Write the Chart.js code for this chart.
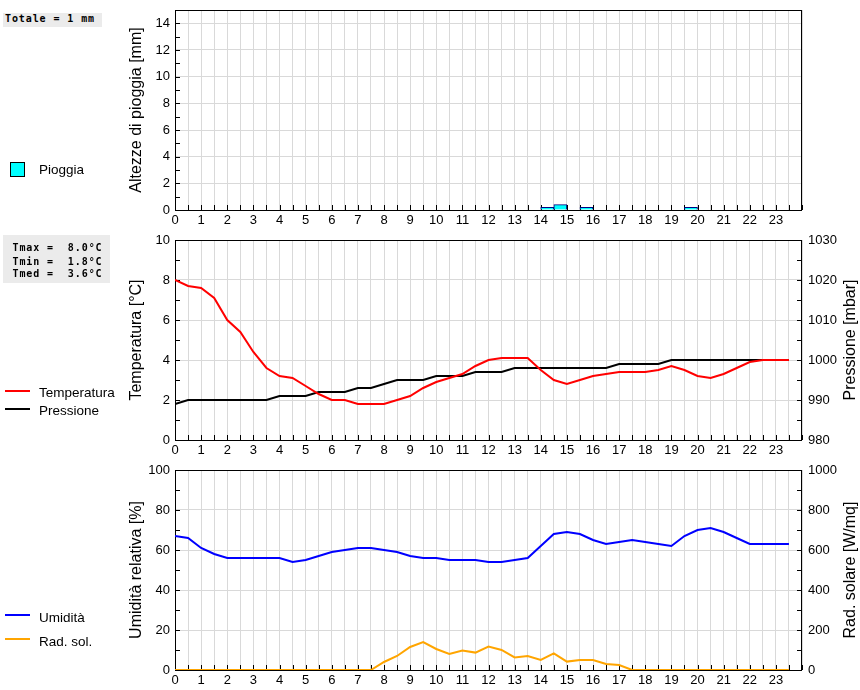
<!DOCTYPE html>
<html>
<head>
<meta charset="utf-8">
<script src="https://cdn.jsdelivr.net/npm/chart.js@4/dist/chart.umd.min.js"></script>
<style>
  html, body { margin: 0; padding: 0; background: #fff; }
  #wrap { position: relative; width: 860px; height: 690px; overflow: hidden; font-family: 'Liberation Sans', Arial, sans-serif; }
  canvas { position: absolute; left: 0; }
  .ttl { position: absolute; white-space: nowrap; font-size: 16px; line-height: 18px; transform: translate(-50%, -50%) rotate(-90deg); }
  .box { position: absolute; background: #ebebeb; }
  .mono { position: absolute; white-space: pre; font: bold 10px 'DejaVu Sans Mono', monospace; line-height: 10px; letter-spacing: 0.9px; }
  .leg { position: absolute; white-space: nowrap; font-size: 13.5px; line-height: 13.5px; }
  .ln { position: absolute; height: 2px; width: 25px; left: 5px; }
</style>
</head>
<body>
<div id="wrap">
  <canvas id="c1" width="860" height="230" style="top:0px"></canvas>
  <canvas id="c2" width="860" height="230" style="top:230px"></canvas>
  <canvas id="c3" width="860" height="230" style="top:460px"></canvas>

  <div class="box" style="left:3px;top:12.5px;width:99px;height:14.5px"></div>
  <div class="mono" style="left:5px;top:13.5px">Totale = 1 mm</div>

  <div class="box" style="left:3px;top:235px;width:107px;height:48px"></div>
  <div class="mono" style="left:12.5px;top:242.5px">Tmax =  8.0°C</div>
  <div class="mono" style="left:12.5px;top:256.5px">Tmin =  1.8°C</div>
  <div class="mono" style="left:12.5px;top:269px">Tmed =  3.6°C</div>

  <div style="position:absolute;left:10px;top:162px;width:13px;height:13px;background:#00ffff;border:1px solid #000"></div>
  <div class="leg" style="left:39px;top:163.3px">Pioggia</div>

  <div class="ln" style="top:390px;background:#ff0000"></div>
  <div class="leg" style="left:39px;top:385.6px">Temperatura</div>
  <div class="ln" style="top:408px;background:#000000"></div>
  <div class="leg" style="left:39px;top:403.6px">Pressione</div>

  <div class="ln" style="top:614px;background:#0000ff"></div>
  <div class="leg" style="left:39px;top:611.3px">Umidità</div>
  <div class="ln" style="top:638px;background:#ffa500"></div>
  <div class="leg" style="left:39px;top:634.6px">Rad. sol.</div>

  <div class="ttl" style="left:136px;top:110px">Altezze di pioggia [mm]</div>
  <div class="ttl" style="left:136px;top:340px">Temperatura [°C]</div>
  <div class="ttl" style="left:850px;top:340px">Pressione [mbar]</div>
  <div class="ttl" style="left:136px;top:570px">Umidità relativa [%]</div>
  <div class="ttl" style="left:850px;top:570px">Rad. solare [W/mq]</div>
</div>
<script>
// ---- data (half-hour samples) ----
const hours = [0,0.5,1,1.5,2,2.5,3,3.5,4,4.5,5,5.5,6,6.5,7,7.5,8,8.5,9,9.5,10,10.5,11,11.5,
               12,12.5,13,13.5,14,14.5,15,15.5,16,16.5,17,17.5,18,18.5,19,19.5,20,20.5,21,21.5,22,22.5,23,23.5];
const hourLabels = ['0','1','2','3','4','5','6','7','8','9','10','11','12','13','14','15','16','17','18','19','20','21','22','23'];
const rain = [0,0,0,0,0,0,0,0,0,0,0,0,0,0,0,0,0,0,0,0,0,0,0,0,
              0,0,0,0,0.2,0.4,0,0.2,0,0,0,0,0,0,0,0.2,0,0,0,0,0,0,0,0];
const temperature = [8.0,7.7,7.6,7.1,6.0,5.4,4.4,3.6,3.2,3.1,2.7,2.3,2.0,2.0,1.8,1.8,1.8,2.0,2.2,2.6,2.9,3.1,3.3,3.7,
                     4.0,4.1,4.1,4.1,3.5,3.0,2.8,3.0,3.2,3.3,3.4,3.4,3.4,3.5,3.7,3.5,3.2,3.1,3.3,3.6,3.9,4.0,4.0,4.0];
const pressure = [989,990,990,990,990,990,990,990,991,991,991,992,992,992,993,993,994,995,995,995,996,996,996,997,
                  997,997,998,998,998,998,998,998,998,998,999,999,999,999,1000,1000,1000,1000,1000,1000,1000,1000,1000,1000];
const humidity = [67,66,61,58,56,56,56,56,56,54,55,57,59,60,61,61,60,59,57,56,56,55,55,55,
                  54,54,55,56,62,68,69,68,65,63,64,65,64,63,62,67,70,71,69,66,63,63,63,63];
const radiation = [0,0,0,0,0,0,0,0,0,0,0,0,0,0,0,0,40,70,115,140,105,80,97,87,
                   117,100,63,70,50,83,42,50,50,30,25,0,0,0,0,0,0,0,0,0,0,0,0,0];

Chart.defaults.font.family = "'Liberation Sans', Arial, sans-serif";
Chart.defaults.font.size = 13;
Chart.defaults.color = '#000';

const GRID = '#d9d9d9';

const frame = {
  id: 'frame',
  beforeDatasetsDraw(chart) {
    const {ctx, chartArea: a} = chart;
    ctx.save();
    ctx.strokeStyle = '#000';
    ctx.lineWidth = 1;
    ctx.beginPath();
    Object.values(chart.scales).forEach(s => {
      s.ticks.forEach(t => {
        const p = Math.round(s.getPixelForValue(t.value)) + 0.5;
        if (s.axis === 'x') { ctx.moveTo(p, a.bottom); ctx.lineTo(p, a.bottom - 5); }
        else if (s.position === 'left') { ctx.moveTo(a.left, p); ctx.lineTo(a.left + 5, p); }
        else { ctx.moveTo(a.right, p); ctx.lineTo(a.right - 5, p); }
      });
    });
    ctx.stroke();
    ctx.strokeRect(Math.round(a.left) + 0.5, Math.round(a.top) + 0.5, Math.round(a.width) - 1, Math.round(a.height));
    ctx.restore();
  }
};

function xAxis() {
  return {
    type: 'linear', min: 0, max: 24, offset: false,
    grid: { color: GRID, drawTicks: false, offset: false },
    border: { display: false },
    ticks: {
      stepSize: 0.5, maxTicksLimit: 100, autoSkip: false, maxRotation: 0, minRotation: 0, padding: 3,
      callback: v => (Number.isInteger(v) && v < 24) ? hourLabels[v] : ''
    },
    afterFit: s => { s.height = 20; s.paddingLeft = 0; s.paddingRight = 0; s.paddingTop = 0; s.paddingBottom = 0; }
  };
}
function yAxis(pos, min, max, step, labelEvery, showGrid) {
  return {
    type: 'linear', position: pos, min: min, max: max,
    grid: {
      display: showGrid, drawTicks: false,
      color: c => (Math.round(c.tick.value - min) % labelEvery === 0) ? GRID : 'rgba(0,0,0,0)'
    },
    border: { display: false },
    ticks: {
      stepSize: step, maxTicksLimit: 100, autoSkip: false, padding: pos === 'left' ? 5 : 6,
      callback: v => (Math.round(v - min) % labelEvery === 0) ? String(v) : ''
    },
    afterFit: s => { s.width = pos === 'left' ? 175 : 58; s.paddingTop = 0; s.paddingBottom = 0; s.paddingLeft = 0; s.paddingRight = 0; }
  };
}
const pts = arr => hours.map((h, i) => ({ x: h, y: arr[i] }));
const common = {
  responsive: false, animation: false, devicePixelRatio: 1,
  events: [],
  plugins: { legend: { display: false }, tooltip: { enabled: false } }
};

new Chart(document.getElementById('c1'), {
  type: 'bar',
  data: {
    datasets: [{
      label: 'Pioggia',
      data: hours.map((h, i) => ({ x: h + 0.25, y: rain[i] > 0 ? rain[i] : null })),
      backgroundColor: '#00ffff', borderColor: '#000080', borderWidth: 1,
      barPercentage: 1, categoryPercentage: 1
    }]
  },
  options: Object.assign({}, common, {
    layout: { padding: { top: 10, right: 58, left: 0, bottom: 0 } },
    scales: { x: xAxis(), y: yAxis('left', 0, 15, 1, 2, true) }
  }),
  plugins: [frame]
});

new Chart(document.getElementById('c2'), {
  type: 'line',
  data: {
    datasets: [
      { label: 'Temperatura', data: pts(temperature), yAxisID: 'yT', borderColor: '#ff0000', borderWidth: 2, pointRadius: 0, tension: 0, fill: false },
      { label: 'Pressione', data: pts(pressure), yAxisID: 'yP', borderColor: '#000000', borderWidth: 2, pointRadius: 0, tension: 0, fill: false }
    ]
  },
  options: Object.assign({}, common, {
    layout: { padding: { top: 10, right: 0, left: 0, bottom: 0 } },
    scales: { x: xAxis(), yT: yAxis('left', 0, 10, 1, 2, true), yP: yAxis('right', 980, 1030, 5, 10, false) }
  }),
  plugins: [frame]
});

new Chart(document.getElementById('c3'), {
  type: 'line',
  data: {
    datasets: [
      { label: 'Umidità', data: pts(humidity), yAxisID: 'yH', borderColor: '#0000ff', borderWidth: 2, pointRadius: 0, tension: 0, fill: false },
      { label: 'Rad. sol.', data: pts(radiation), yAxisID: 'yR', borderColor: '#ffa500', borderWidth: 2, pointRadius: 0, tension: 0, fill: false }
    ]
  },
  options: Object.assign({}, common, {
    layout: { padding: { top: 10, right: 0, left: 0, bottom: 0 } },
    scales: { x: xAxis(), yH: yAxis('left', 0, 100, 10, 20, true), yR: yAxis('right', 0, 1000, 100, 200, false) }
  }),
  plugins: [frame]
});
</script>
</body>
</html>
